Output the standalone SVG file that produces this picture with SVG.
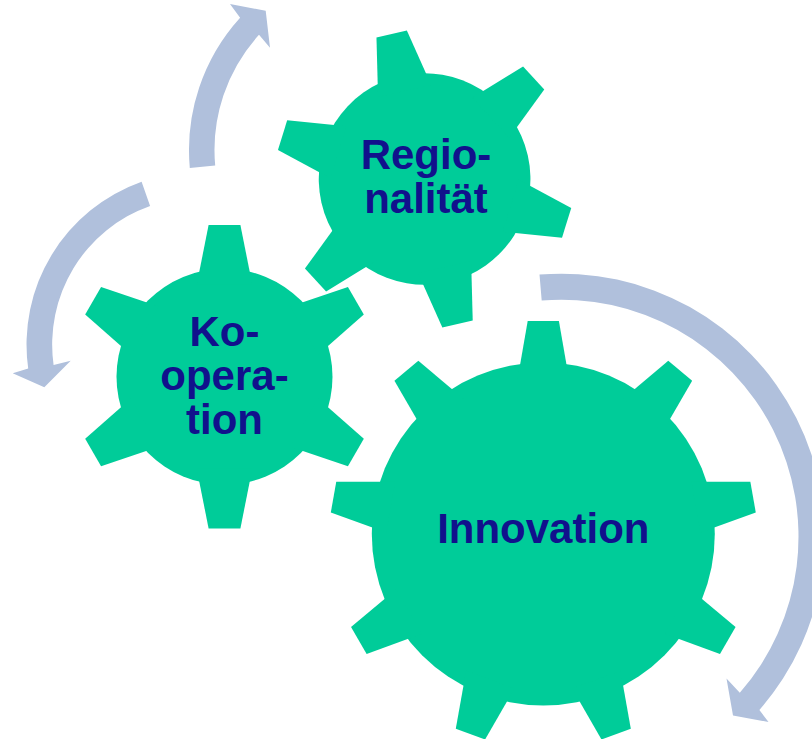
<svg xmlns="http://www.w3.org/2000/svg" width="812" height="739" viewBox="0 0 812 739">
<style>
.gear{fill:#00CC99}
.lbl{font-family:"Liberation Sans",Arial,sans-serif;font-weight:bold;font-size:42px;fill:#11118C;text-anchor:middle}
.arr{fill:#B0C0DC}
</style>
<defs>
<path id="tS" d="M-15.9,-151.7 L15.9,-151.7 L27.8,-92 L-27.8,-92 Z"/>
<path id="tL" d="M-15.6,-213 L15.6,-213 L25.7,-155 L-25.7,-155 Z"/>
</defs>
<rect width="812" height="739" fill="#FFFFFF"/>
<g id="innovation">
<g class="gear" transform="translate(543.3,534)">
<circle r="171.5"/>
<use href="#tL"/>
<use href="#tL" transform="rotate(40)"/>
<use href="#tL" transform="rotate(80)"/>
<use href="#tL" transform="rotate(120)"/>
<use href="#tL" transform="rotate(160)"/>
<use href="#tL" transform="rotate(200)"/>
<use href="#tL" transform="rotate(240)"/>
<use href="#tL" transform="rotate(280)"/>
<use href="#tL" transform="rotate(320)"/>
</g>
<text class="lbl" x="543.3" y="543.3">Innovation</text>
</g>
<g id="kooperation">
<g class="gear" transform="translate(224.5,376.7)">
<circle r="108"/>
<use href="#tS"/>
<use href="#tS" transform="rotate(60)"/>
<use href="#tS" transform="rotate(120)"/>
<use href="#tS" transform="rotate(180)"/>
<use href="#tS" transform="rotate(240)"/>
<use href="#tS" transform="rotate(300)"/>
</g>
<text class="lbl" x="224.5" y="345.5">Ko-</text>
<text class="lbl" x="224.5" y="389.5">opera-</text>
<text class="lbl" x="224.5" y="433.5">tion</text>
</g>
<g id="regionalitaet">
<g class="gear" transform="translate(424.6,179) rotate(-12.8) scale(0.98)">
<circle r="108"/>
<use href="#tS"/>
<use href="#tS" transform="rotate(60)"/>
<use href="#tS" transform="rotate(120)"/>
<use href="#tS" transform="rotate(180)"/>
<use href="#tS" transform="rotate(240)"/>
<use href="#tS" transform="rotate(300)"/>
</g>
<text class="lbl" x="426" y="168.5">Regio-</text>
<text class="lbl" x="426" y="212.7">nalität</text>
</g>
<g id="connectors">
<path class="arr" d="M539.5,274.6 A263,263 0 0 1 759.4,710 L768.5,722 L733,715.5 L726.5,678.5 L739.8,692.8 A237,237 0 0 0 541.7,300.5 Z"/>
<path class="arr" d="M189.8,167.9 A197,197 0 0 1 240.1,17.7 L230,4 L265.7,10.7 L270,47.7 L259,34.8 A171.5,171.5 0 0 0 215.2,165.5 Z"/>
<path class="arr" d="M141.6,181.7 A172.7,172.7 0 0 0 28.2,368.5 L12.7,373.3 L44.3,387.3 L70.7,360.7 L53.6,365 A147,147 0 0 1 150.1,205.9 Z"/>
</g>
</svg>
